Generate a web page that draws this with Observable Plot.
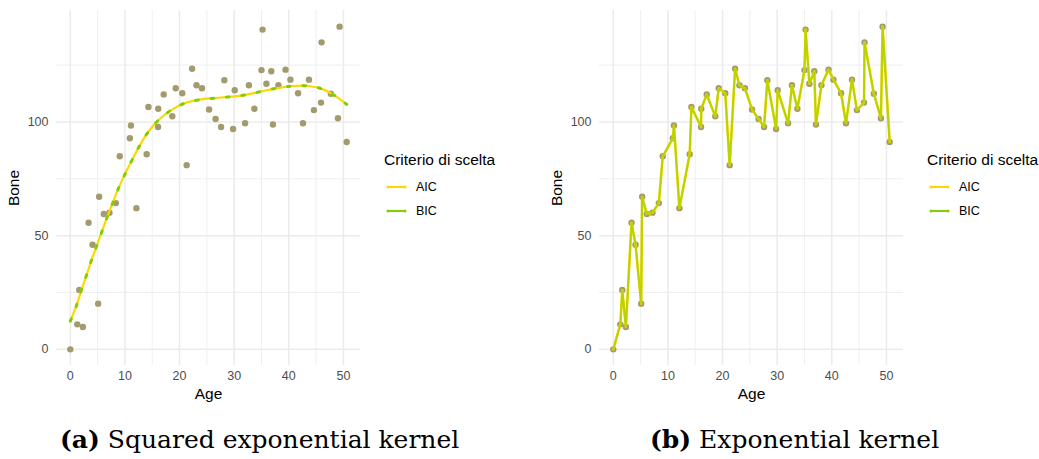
<!DOCTYPE html>
<html>
<head>
<meta charset="utf-8">
<script src="https://cdn.jsdelivr.net/npm/d3@7"></script>
<script src="https://cdn.jsdelivr.net/npm/@observablehq/plot@0.6"></script>
<style>
  html, body { margin: 0; padding: 0; background: #fff; }
  #root { position: relative; width: 1039px; height: 459px; overflow: hidden; font-family: "Liberation Sans", Arial, sans-serif; }
  .panel { position: absolute; top: 0; }
  .panel svg [aria-label="x-axis label"] text,
  .panel svg [aria-label="y-axis label"] text { font-size: 15.5px; fill: #000; }
  .legend { position: absolute; font-family: "Liberation Sans", Arial, sans-serif; color: #000; }
  .legend .title { position: absolute; left: 0; top: 0; font-size: 15.5px; white-space: nowrap; line-height: 18px; }
  .legend .item { position: absolute; left: 0; font-size: 12.5px; white-space: nowrap; height: 16px; line-height: 16px; }
  .legend .item svg { position: absolute; left: 2px; top: 3px; }
  .legend .item span { position: absolute; left: 32px; top: 0; }
  .caption { position: absolute; top: 425px; font-family: "DejaVu Serif", serif; font-size: 25px; white-space: nowrap; color: #000; }
</style>
</head>
<body>
<div id="root"></div>
<script>
// ---- data ----
const age = [0, 1.28, 1.64, 2.3, 3.34, 4.07, 5.1, 5.28, 6.13, 7.17, 8.33, 9.05, 10.9, 11.1, 12.1, 13.98, 14.3, 16.06, 16.1, 17.1, 18.67, 19.3, 20.5, 21.3, 22.3, 23.1, 24.1, 25.4, 26.6, 27.6, 28.2, 29.8, 30.1, 32.0, 32.7, 33.7, 35.0, 35.2, 35.9, 36.8, 37.1, 38.1, 39.4, 40.3, 41.7, 42.6, 43.7, 44.6, 45.9, 46.0, 47.7, 49.0, 49.3, 50.6];
const bone = [0, 11.0, 26.1, 9.8, 55.7, 46.0, 20.1, 67.1, 59.5, 60.1, 64.3, 84.9, 92.8, 98.4, 62.1, 85.8, 106.6, 97.8, 105.8, 112.1, 102.5, 114.8, 112.6, 81.0, 123.4, 116.1, 114.8, 105.5, 101.3, 97.8, 118.3, 96.9, 113.9, 99.4, 116.1, 105.8, 122.8, 140.6, 116.8, 122.3, 98.9, 116.1, 123.0, 118.6, 112.6, 99.4, 118.6, 105.2, 108.5, 135.0, 112.4, 101.6, 141.9, 91.2];

// GP mean fit, squared exponential kernel (AIC and BIC coincide)
const fitAge = [0, 1.1, 2.0, 2.9, 3.8, 4.8, 5.77, 6.75, 7.8, 8.87, 10.1, 11.4, 12.7, 14.2, 16.1, 18.4, 20.9, 23.7, 26.6, 29.4, 32.3, 35.1, 38.0, 40.7, 43.7, 46.4, 48.9, 50.6];
const fitBone = [12.4, 19.1, 25.8, 32.1, 38.7, 45.3, 51.7, 58.2, 64.6, 71.1, 77.5, 83.7, 89.6, 95.4, 100.7, 105.1, 108.2, 109.8, 110.5, 111.1, 112.0, 113.5, 114.9, 115.8, 115.8, 114.2, 110.8, 107.7];

const xMajor = [0, 10, 20, 30, 40, 50];
const xMinor = [5, 15, 25, 35, 45];
const yMajor = [0, 50, 100];
const yMinor = [25, 75, 125];

const criteria = ["AIC", "BIC"];
const criteriaColors = ["#FFD700", "#7ED000"];
const pointColor = "#a39a6e";
const legendTitle = "Criterio di scelta";
const captions = [["(a)", " Squared exponential kernel"], ["(b)", " Exponential kernel"]];

// ---- tables ----
const points = age.map((a, i) => ({age: a, bone: bone[i]}));
const fit = fitAge.map((a, i) => ({age: a, bone: fitBone[i]}));

function grid() {
  return [
    Plot.ruleY(yMinor, {stroke: "#ebebeb", strokeWidth: 0.8}),
    Plot.ruleX(xMinor, {stroke: "#ebebeb", strokeWidth: 0.8}),
    Plot.ruleY(yMajor, {stroke: "#ebebeb", strokeWidth: 1.5}),
    Plot.ruleX(xMajor, {stroke: "#ebebeb", strokeWidth: 1.5})
  ];
}

function makePlot(marks) {
  return Plot.plot({
    width: 370, height: 400,
    marginLeft: 56, marginRight: 10, marginTop: 10, marginBottom: 35,
    style: {fontFamily: "Liberation Sans, Arial, sans-serif", fontSize: "12.5px", color: "#4d4d4d", background: "transparent", overflow: "visible"},
    x: {domain: [-2.53, 53.13], ticks: xMajor, tickSize: 0, tickPadding: 6, label: "Age", labelArrow: "none", labelAnchor: "center", labelOffset: 33},
    y: {domain: [-7.1, 149], ticks: yMajor, tickSize: 0, tickPadding: 8, label: "Bone", labelArrow: "none", labelAnchor: "center", labelOffset: 49},
    marks: [...grid(), ...marks]
  });
}

const left = makePlot([
  Plot.dot(points, {x: "age", y: "bone", r: 3.2, fill: pointColor}),
  Plot.line(fit, {x: "age", y: "bone", stroke: criteriaColors[0], strokeWidth: 2.2, curve: "catmull-rom"}),
  Plot.line(fit, {x: "age", y: "bone", stroke: criteriaColors[1], strokeWidth: 3, strokeDasharray: "2.6,12.9", curve: "catmull-rom"})
]);

const right = makePlot([
  Plot.dot(points, {x: "age", y: "bone", r: 3.2, fill: pointColor}),
  Plot.line(points, {x: "age", y: "bone", stroke: criteriaColors[0], strokeWidth: 2.6}),
  Plot.line(points, {x: "age", y: "bone", stroke: criteriaColors[1], strokeWidth: 2, strokeOpacity: 0.55})
]);

const root = document.getElementById("root");
function place(el, x, y, cls) {
  const d = document.createElement("div");
  d.className = cls; d.style.left = x + "px"; d.style.top = y + "px";
  d.appendChild(el); root.appendChild(d); return d;
}
place(left, 0, 0, "panel");
place(right, 543, 0, "panel");

function legend(x, y) {
  const lg = document.createElement("div");
  lg.className = "legend"; lg.style.left = x + "px"; lg.style.top = y + "px";
  const t = document.createElement("div"); t.className = "title"; t.textContent = legendTitle; lg.appendChild(t);
  criteria.forEach((c, i) => {
    const it = document.createElement("div"); it.className = "item"; it.style.top = (28 + i * 24) + "px";
    it.innerHTML = `<svg width="22" height="10"><line x1="1" y1="5" x2="20" y2="5" stroke="${criteriaColors[i]}" stroke-width="2"/><circle cx="2" cy="5" r="1.5" fill="${criteriaColors[i]}"/><circle cx="19" cy="5" r="1.5" fill="${criteriaColors[i]}"/></svg><span>${c}</span>`;
    lg.appendChild(it);
  });
  root.appendChild(lg);
}
legend(384, 151);
legend(927, 151);

function caption(x, parts) {
  const d = document.createElement("div"); d.className = "caption"; d.style.left = x + "px";
  const b = document.createElement("b"); b.textContent = parts[0]; d.appendChild(b);
  d.appendChild(document.createTextNode(parts[1]));
  root.appendChild(d);
}
caption(60, captions[0]);
caption(650, captions[1]);
</script>
</body>
</html>
